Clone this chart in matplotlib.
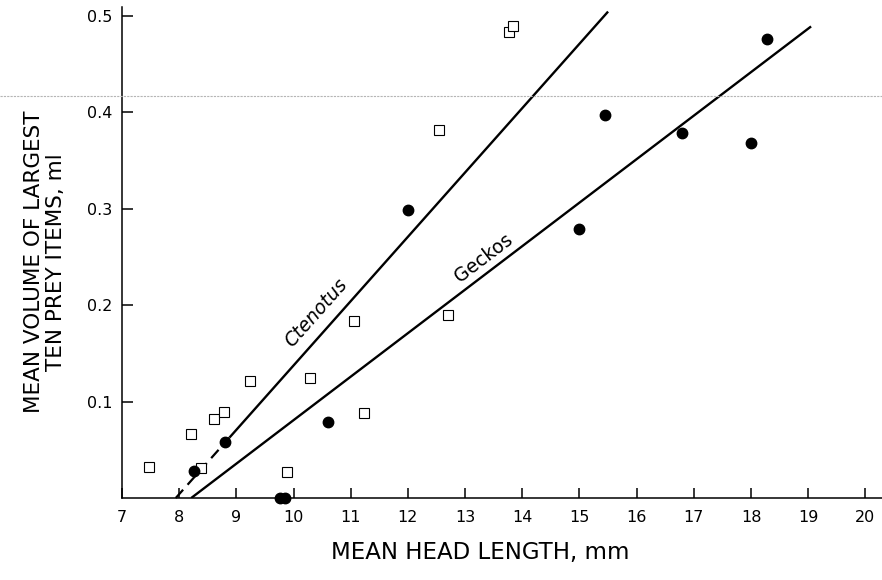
import numpy as np
import matplotlib
matplotlib.use("Agg")
from matplotlib import pyplot as plt
from matplotlib.lines import Line2D

# Ctenotus (open squares)
ctenotus_head = [7.47, 8.20, 8.38, 8.61, 8.79, 9.23, 9.88, 10.29, 11.05, 11.24, 12.54, 12.70, 13.76, 13.84]
ctenotus_volume = [0.032, 0.066, 0.031, 0.082, 0.089, 0.121, 0.027, 0.124, 0.184, 0.088, 0.382, 0.190, 0.483, 0.489]

# Geckos (filled circles)
gecko_head = [8.26, 8.80, 9.76, 9.85, 10.61, 12.00, 15.00, 15.45, 16.80, 18.00, 18.28]
gecko_volume = [0.028, 0.058, 0.0, 0.0, 0.079, 0.299, 0.279, 0.397, 0.378, 0.368, 0.476]

# fitted lines: slope, intercept, x range
ctenotus_fit = (0.0667, -0.5296)
ctenotus_dashed_range = [7.94, 8.88]
ctenotus_solid_range = [8.88, 15.5]
gecko_fit = (0.0451, -0.3703)
gecko_range = [8.21, 19.05]

x_ticks = list(range(7, 21))
y_ticks = [0.1, 0.2, 0.3, 0.4, 0.5]
y_tick_labels = ["0.1", "0.2", "0.3", "0.4", "0.5"]

fig = plt.figure(figsize=(8.82, 5.80), dpi=100)
ax = fig.add_axes([122 / 882, 82 / 580, 760 / 882, 491 / 580])

ax.set_xlim(7, 20.29)
ax.set_ylim(0, 0.509)

# scan artifact: faint horizontal line across the page
fig.add_artist(Line2D([0, 1], [1 - 96 / 580, 1 - 96 / 580], transform=fig.transFigure,
                      color="#b5b5b5", lw=0.8, linestyle=(0, (2, 1))))


def fit_line(fit, xr):
    xs = np.array(xr)
    return xs, fit[0] * xs + fit[1]


xs, ys = fit_line(ctenotus_fit, ctenotus_dashed_range)
ax.plot(xs, ys, color="black", lw=1.6, linestyle=(0, (5, 3)), clip_on=False)
xs, ys = fit_line(ctenotus_fit, ctenotus_solid_range)
ax.plot(xs, ys, color="black", lw=1.7, solid_capstyle="butt")
xs, ys = fit_line(gecko_fit, gecko_range)
ax.plot(xs, ys, color="black", lw=1.7, solid_capstyle="butt")

ax.plot(ctenotus_head, ctenotus_volume, "s", ms=7, mfc="white", mec="black", mew=0.8,
        clip_on=False, zorder=3)
ax.plot(gecko_head, gecko_volume, "o", ms=7.5, color="black", clip_on=False, zorder=3)


def line_angle(fit):
    p = ax.transData.transform([(10, fit[0] * 10 + fit[1]), (14, fit[0] * 14 + fit[1])])
    return np.degrees(np.arctan2(p[1, 1] - p[0, 1], p[1, 0] - p[0, 0]))


ax.text(10.39, 0.192, "Ctenotus", style="italic", fontsize=13.5,
        rotation=line_angle(ctenotus_fit), ha="center", va="center", rotation_mode="anchor")
ax.text(13.33, 0.249, "Geckos", fontsize=13.5,
        rotation=line_angle(gecko_fit), ha="center", va="center", rotation_mode="anchor")

# axes style
for side in ["top", "right"]:
    ax.spines[side].set_visible(False)
for side in ["left", "bottom"]:
    ax.spines[side].set_linewidth(1.1)

ax.set_xticks(x_ticks)
ax.set_xticklabels([str(t) for t in x_ticks])
ax.set_yticks(y_ticks)
ax.set_yticklabels(y_tick_labels)
ax.tick_params(axis="x", direction="in", length=7, width=1.1, pad=9, labelsize=11.5)
ax.tick_params(axis="y", direction="in", length=8, width=1.1, pad=7, labelsize=11.5)

fig.text(480 / 882, 1 - 553 / 580, "MEAN HEAD LENGTH, mm", fontsize=16.5,
         ha="center", va="center")
fig.text(45 / 882, 1 - 262 / 580, "MEAN VOLUME OF LARGEST\nTEN PREY ITEMS, ml", fontsize=15.5,
         rotation=90, ha="center", va="center", multialignment="center", linespacing=1.1)

fig.savefig("out.png", dpi=100)
